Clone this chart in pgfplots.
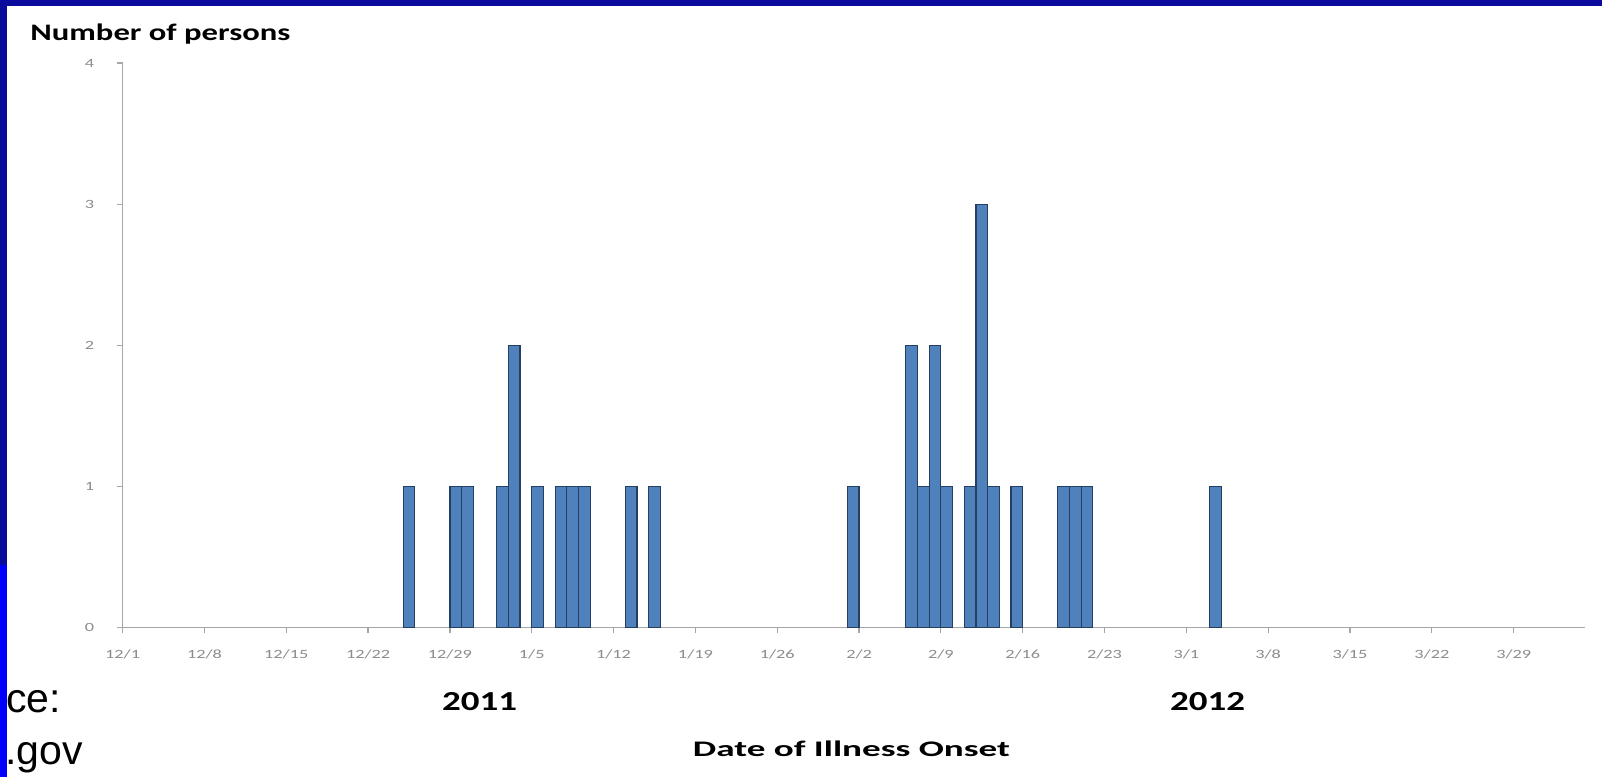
\documentclass[border=0pt]{standalone}
\usepackage{pgfplots}
\pgfplotsset{compat=1.18}
\usepackage{fontspec}
\setmainfont{Carlito}
\newfontfamily\tickfont[FakeStretch=1.45]{Carlito}
\newfontfamily\arialfont{Liberation Sans}
\definecolor{barblue}{HTML}{4F81BD}
\definecolor{baredge}{HTML}{243F60}
\definecolor{axgray}{HTML}{A6A6A6}
\definecolor{tickgray}{HTML}{8C8C8C}
\definecolor{navyblue}{HTML}{0A0A9C}
\definecolor{brightblue}{HTML}{0000FF}
\begin{document}
\begin{tikzpicture}
\useasboundingbox (0,0) rectangle (801pt,388.5pt);
\fill[white] (0,0) rectangle (801pt,388.5pt);
\begin{scope}[x=0.5pt,y=-0.5pt,shift={(0,388.5pt)}]
  \fill[navyblue] (0,0) rectangle (1602,6);
  \fill[navyblue] (0,0) rectangle (7,565);
  \fill[brightblue] (0,565) rectangle (7,777);
  \node[anchor=base west, inner sep=0, font=\arialfont\fontsize{20.5}{24}\selectfont] at (6,713) {ce:};
  \node[anchor=base west, inner sep=0, font=\arialfont\fontsize{20.5}{24}\selectfont] at (5,765) {.gov};
  \node[anchor=base west, inner sep=0] at (30,41) {\resizebox{130pt}{8.3pt}{\bfseries Number of persons}};
  \node[anchor=base, inner sep=0] at (479.5,711) {\resizebox{37.5pt}{9pt}{\bfseries 2011}};
  \node[anchor=base, inner sep=0] at (1207.5,711) {\resizebox{37.5pt}{9pt}{\bfseries 2012}};
  \node[anchor=base, inner sep=0] at (851.5,756) {\resizebox{158.5pt}{7.8pt}{\bfseries Date of Illness Onset}};
\end{scope}
\begin{axis}[
  at={(61.3pt,74.75pt)}, anchor=south west,
  scale only axis, width=731.2pt, height=282.25pt,
  xmin=0, xmax=125.1, ymin=0, ymax=4,
  axis x line*=bottom, axis y line*=left,
  axis line style={axgray, line width=0.8pt},
  tick style={axgray, line width=0.6pt},
  tick align=outside, major tick length=3pt,
  xtick={0,7,...,119},
  xticklabels={12/1,12/8,12/15,12/22,12/29,1/5,1/12,1/19,1/26,2/2,2/9,2/16,2/23,3/1,3/8,3/15,3/22,3/29},
  ytick={0,1,2,3,4},
  ticklabel style={font=\tickfont\fontsize{6.3}{7}\selectfont, text=tickgray},
  xticklabel style={anchor=center, yshift=-10.25pt},
  yticklabel style={anchor=center, xshift=-13.5pt},
  /pgf/number format/assume math mode=true,
  clip=false,
]
\addplot[ybar, bar width=1, fill=barblue, draw=baredge, line width=0.6pt] coordinates {
  (24.5,1) (28.5,1) (29.5,1) (32.5,1) (33.5,2) (35.5,1) (37.5,1) (38.5,1)
  (39.5,1) (43.5,1) (45.5,1) (62.5,1) (67.5,2) (68.5,1) (69.5,2) (70.5,1)
  (72.5,1) (73.5,3) (74.5,1) (76.5,1) (80.5,1) (81.5,1) (82.5,1) (93.5,1)
};
\end{axis}
\end{tikzpicture}
\end{document}
